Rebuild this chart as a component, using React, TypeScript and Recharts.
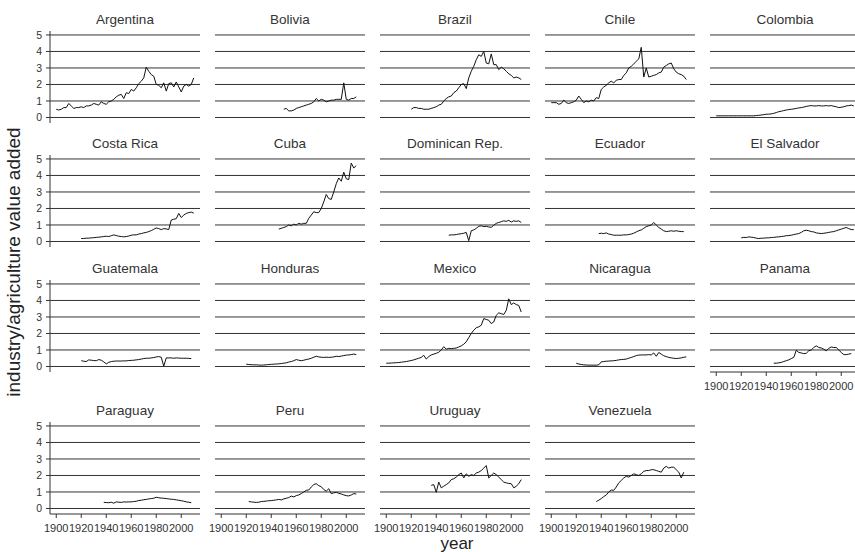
import { Line, LineChart, ReferenceLine, XAxis, YAxis } from 'recharts';

// year grid used by every series (two-year steps)
const YEARS = [
  1900, 1902, 1904, 1906, 1908, 1910, 1912, 1914, 1916, 1918,
  1920, 1922, 1924, 1926, 1928, 1930, 1932, 1934, 1936, 1938,
  1940, 1942, 1944, 1946, 1948, 1950, 1952, 1954, 1956, 1958,
  1960, 1962, 1964, 1966, 1968, 1970, 1972, 1974, 1976, 1978,
  1980, 1982, 1984, 1986, 1988, 1990, 1992, 1994, 1996, 1998,
  2000, 2002, 2004, 2006, 2008, 2010,
];
const X_TICKS = [1900, 1920, 1940, 1960, 1980, 2000];
const Y_TICKS = [0, 1, 2, 3, 4, 5];

const argentina = {
  name: 'Argentina',
  from: 1900,
  values: [
    0.5, 0.45, 0.5, 0.6, 0.6, 0.85, 0.7, 0.55, 0.6, 0.6,
    0.65, 0.6, 0.7, 0.7, 0.75, 0.85, 0.8, 0.75, 0.95, 0.85,
    0.8, 0.95, 1.0, 1.1, 1.25, 1.35, 1.4, 1.15, 1.5, 1.45,
    1.7, 1.6, 1.8, 2.05, 2.2, 2.4, 3.05, 2.8, 2.6, 2.5,
    2.0, 1.95, 1.8, 2.1, 1.6, 2.05, 2.1, 1.85, 2.15, 1.85,
    1.55, 1.9, 2.0, 1.9, 2.0, 2.4,
  ],
};
const bolivia = {
  name: 'Bolivia',
  from: 1950,
  values: [
    0.5, 0.55, 0.4, 0.4, 0.45, 0.55, 0.6, 0.65, 0.7, 0.75,
    0.8, 0.85, 0.95, 1.15, 1.0, 1.1, 1.05, 0.95, 1.0, 1.05,
    1.05, 1.1, 1.1, 1.1, 2.1, 1.1, 1.05, 1.15, 1.15, 1.25,
  ],
};
const brazil = {
  name: 'Brazil',
  from: 1920,
  values: [
    0.5, 0.6, 0.6, 0.55, 0.55, 0.5, 0.5, 0.5, 0.55, 0.6,
    0.65, 0.75, 0.8, 1.0, 1.15, 1.25, 1.3, 1.5, 1.6, 1.8,
    2.0, 2.05, 1.75, 2.4, 2.8, 3.1, 3.5, 3.8, 3.7, 4.0,
    3.3, 3.25, 3.85, 3.2, 3.2, 2.9, 3.05, 2.95, 2.8, 2.65,
    2.55, 2.4, 2.45, 2.4, 2.3,
  ],
};
const chile = {
  name: 'Chile',
  from: 1900,
  values: [
    0.9, 0.9, 0.9, 0.8, 0.85, 1.05, 0.9, 0.85, 0.9, 0.95,
    1.05, 1.3, 1.1, 0.9, 1.0, 0.95, 1.05, 1.0, 1.2, 1.15,
    1.7, 1.85, 1.95, 2.1, 2.2, 2.1, 2.25, 2.3, 2.3, 2.55,
    2.7, 3.0, 3.1, 3.25, 3.4, 3.55, 4.25, 2.45, 3.0, 2.45,
    2.5, 2.55, 2.6, 2.7, 2.75, 3.05, 3.15, 3.25, 3.3, 2.95,
    2.75, 2.65, 2.6, 2.5, 2.3,
  ],
};
const colombia = {
  name: 'Colombia',
  from: 1900,
  values: [
    0.1, 0.1, 0.1, 0.1, 0.1, 0.1, 0.1, 0.1, 0.1, 0.1,
    0.1, 0.1, 0.1, 0.1, 0.1, 0.1, 0.12, 0.13, 0.15, 0.17,
    0.2, 0.2, 0.22, 0.25, 0.3, 0.35, 0.38, 0.42, 0.45, 0.48,
    0.5, 0.52, 0.55, 0.58, 0.6, 0.63, 0.67, 0.7, 0.72, 0.7,
    0.7, 0.72, 0.7, 0.7, 0.72, 0.7, 0.72, 0.68, 0.65, 0.6,
    0.62, 0.65, 0.7, 0.72, 0.75, 0.7,
  ],
};
const costaRica = {
  name: 'Costa Rica',
  from: 1920,
  values: [
    0.18, 0.18, 0.2, 0.2, 0.22, 0.23, 0.25, 0.26, 0.28, 0.3,
    0.32, 0.3, 0.35, 0.4, 0.36, 0.32, 0.3, 0.28, 0.3, 0.33,
    0.38, 0.4, 0.4, 0.45, 0.48, 0.52, 0.55, 0.6, 0.66, 0.74,
    0.82, 0.78, 0.72, 0.78, 0.76, 0.72, 1.3, 1.35, 1.38, 1.7,
    1.45, 1.6, 1.7, 1.75, 1.78, 1.72,
  ],
};
const cuba = {
  name: 'Cuba',
  from: 1946,
  values: [
    0.75, 0.8, 0.85, 0.9, 1.0, 0.95, 1.05, 1.0, 1.1, 1.05,
    1.1, 1.1, 1.4, 1.6, 1.8, 1.75, 1.75, 2.0, 2.4, 2.85,
    2.6, 2.55, 3.0, 3.5, 3.85, 3.65, 4.2, 3.8, 3.75, 4.75,
    4.45, 4.6,
  ],
};
const dominicanRep = {
  name: 'Dominican Rep.',
  from: 1950,
  values: [
    0.38, 0.4, 0.4, 0.42, 0.45, 0.47, 0.5, 0.55, 0.05, 0.65,
    0.7, 0.8, 0.92, 0.95, 0.9, 0.92, 0.88, 0.86, 0.98, 1.1,
    1.15, 1.2, 1.25, 1.22, 1.28, 1.18, 1.25, 1.22, 1.25, 1.15,
  ],
};
const ecuador = {
  name: 'Ecuador',
  from: 1938,
  values: [
    0.48, 0.5, 0.48, 0.52, 0.45, 0.42, 0.38, 0.38, 0.38, 0.38,
    0.4, 0.4, 0.42, 0.45, 0.5, 0.58, 0.65, 0.7, 0.8, 0.9,
    0.95, 1.0, 1.15, 1.0, 0.85, 0.75, 0.65, 0.6, 0.62, 0.65,
    0.62, 0.65, 0.62, 0.6, 0.6,
  ],
};
const elSalvador = {
  name: 'El Salvador',
  from: 1920,
  values: [
    0.22, 0.25, 0.24, 0.28, 0.26, 0.24, 0.2, 0.18, 0.2, 0.2,
    0.22, 0.22, 0.24, 0.25, 0.27, 0.28, 0.3, 0.32, 0.35, 0.36,
    0.38, 0.42, 0.45, 0.48, 0.55, 0.65, 0.68, 0.65, 0.6, 0.58,
    0.52, 0.5, 0.48, 0.5, 0.52, 0.55, 0.58, 0.6, 0.65, 0.7,
    0.75, 0.8, 0.85, 0.78, 0.72, 0.72,
  ],
};
const guatemala = {
  name: 'Guatemala',
  from: 1920,
  values: [
    0.35, 0.32, 0.3, 0.4, 0.38, 0.36, 0.35, 0.42, 0.38, 0.28,
    0.16, 0.25, 0.3, 0.32, 0.33, 0.33, 0.33, 0.34, 0.34, 0.36,
    0.37, 0.38, 0.4, 0.42, 0.45, 0.48, 0.5, 0.5, 0.52, 0.54,
    0.58, 0.6, 0.56, 0.02, 0.52, 0.52, 0.52, 0.5, 0.52, 0.51,
    0.5, 0.5, 0.5, 0.49, 0.48,
  ],
};
const honduras = {
  name: 'Honduras',
  from: 1920,
  values: [
    0.14, 0.12, 0.11, 0.1, 0.1, 0.09, 0.08, 0.09, 0.1, 0.12,
    0.13, 0.14, 0.15, 0.16, 0.18, 0.2, 0.22, 0.27, 0.3, 0.35,
    0.42, 0.38, 0.35, 0.38, 0.42, 0.45, 0.5, 0.56, 0.62, 0.58,
    0.56, 0.55, 0.56, 0.55, 0.56, 0.58, 0.62, 0.6, 0.63, 0.66,
    0.69, 0.7, 0.72, 0.75, 0.72,
  ],
};
const mexico = {
  name: 'Mexico',
  from: 1900,
  values: [
    0.2, 0.2, 0.21, 0.22, 0.23, 0.24, 0.26, 0.28, 0.3, 0.33,
    0.36, 0.4, 0.45, 0.5, 0.55, 0.68, 0.45, 0.6, 0.7, 0.75,
    0.8, 0.86, 1.0, 1.2, 1.05, 1.1, 1.08, 1.1, 1.12, 1.18,
    1.25, 1.35, 1.5, 1.75, 2.0, 2.2, 2.35, 2.4, 2.5, 2.9,
    2.85, 2.8, 2.6, 2.7, 3.1, 3.25, 3.2, 3.15, 3.4, 4.1,
    3.75, 3.85, 3.75, 3.7, 3.3,
  ],
};
const nicaragua = {
  name: 'Nicaragua',
  from: 1920,
  values: [
    0.2, 0.15, 0.12, 0.1, 0.09, 0.08, 0.08, 0.08, 0.08, 0.1,
    0.28, 0.3, 0.32, 0.33, 0.34, 0.35, 0.37, 0.4, 0.42, 0.43,
    0.45, 0.5, 0.55, 0.6, 0.66, 0.69, 0.7, 0.7, 0.7, 0.72,
    0.7, 0.82, 0.62, 0.85, 0.75, 0.65, 0.6, 0.55, 0.52, 0.5,
    0.48, 0.5, 0.52, 0.56, 0.58,
  ],
};
const panama = {
  name: 'Panama',
  from: 1946,
  values: [
    0.2, 0.2, 0.22, 0.25, 0.3, 0.35, 0.4, 0.48, 0.55, 0.98,
    0.85, 0.82, 0.78, 0.8, 0.95, 1.0, 1.15, 1.25, 1.15, 1.12,
    1.05, 0.95, 1.1, 1.18, 1.15, 1.15, 1.0, 0.85, 0.72, 0.72,
    0.75, 0.78,
  ],
};
const paraguay = {
  name: 'Paraguay',
  from: 1938,
  values: [
    0.37, 0.36, 0.35, 0.38, 0.32, 0.4, 0.38, 0.37, 0.4, 0.39,
    0.4, 0.4, 0.42, 0.44, 0.48, 0.5, 0.53, 0.55, 0.58, 0.6,
    0.62, 0.68, 0.65, 0.63, 0.62, 0.6, 0.58, 0.56, 0.55, 0.52,
    0.5, 0.47, 0.44, 0.4, 0.38, 0.35,
  ],
};
const peru = {
  name: 'Peru',
  from: 1922,
  values: [
    0.42, 0.4, 0.38, 0.37, 0.38, 0.42, 0.43, 0.45, 0.47, 0.48,
    0.5, 0.52, 0.55, 0.52, 0.58, 0.62, 0.66, 0.75, 0.7, 0.78,
    0.82, 0.9, 1.0, 1.1, 1.12, 1.3, 1.45, 1.5, 1.38, 1.32,
    1.15, 1.05, 1.2, 0.9, 0.95, 0.98, 0.92, 0.88, 0.82, 0.78,
    0.76, 0.82, 0.9, 0.88,
  ],
};
const uruguay = {
  name: 'Uruguay',
  from: 1936,
  values: [
    1.4, 1.45, 0.98, 1.6, 1.25, 1.35, 1.45, 1.55, 1.75, 1.8,
    1.9, 2.05, 2.15, 1.85, 2.1, 1.95, 2.05, 2.0, 2.15, 2.2,
    2.3, 2.45, 2.6, 1.85, 2.0, 2.15, 2.05, 1.9, 1.75, 1.6,
    1.55, 1.52, 1.5, 1.25, 1.35, 1.5, 1.75,
  ],
};
const venezuela = {
  name: 'Venezuela',
  from: 1936,
  values: [
    0.42, 0.5, 0.6, 0.72, 0.82, 1.0, 1.12, 1.1, 1.3, 1.55,
    1.7, 1.85, 1.95, 1.9, 2.0, 2.1, 2.05, 2.0, 2.1, 2.25,
    2.3, 2.3, 2.35, 2.35, 2.3, 2.25, 2.2, 2.45, 2.55, 2.45,
    2.5, 2.5, 2.35, 2.2, 1.85, 2.2,
  ],
};

const PANEL_ROWS = [
  [argentina, bolivia, brazil, chile, colombia],
  [costaRica, cuba, dominicanRep, ecuador, elSalvador],
  [guatemala, honduras, mexico, nicaragua, panama],
  [paraguay, peru, uruguay, venezuela],
];

const ROW_TOPS = [31, 155, 280, 422];
const COL_LEFTS = [50, 215, 380, 545, 710];
const PLOT_W = 150;
const PLOT_H = 92;
const AXIS_W = 40;
const AXIS_H = 30;
const PAD_TOP = 8;
const FONT = "'Liberation Sans', Arial, Helvetica, sans-serif";
const INK = '#333';

type Country = { name: string; from: number; values: number[] };

const Panel = ({ country, left, top, showX, showY }: { country: Country; left: number; top: number; showX: boolean; showY: boolean }) => {
  const start = YEARS.indexOf(country.from);
  const data = country.values.map((v, i) => ({ year: YEARS[start + i], value: v }));

  return (
    <div style={{ position: 'absolute', left: left - AXIS_W, top: top - PAD_TOP }}>
      <LineChart
        width={PLOT_W + AXIS_W}
        height={PLOT_H + AXIS_H + PAD_TOP}
        data={data}
        margin={{ top: PAD_TOP, right: 0, bottom: 0, left: 0 }}
      >
        <XAxis
          dataKey='year'
          type='number'
          domain={[1895, 2015]}
          ticks={X_TICKS}
          interval={0}
          height={AXIS_H}
          allowDataOverflow
          tick={showX ? { fill: INK, fontSize: 11, fontFamily: FONT } : false}
          axisLine={showX ? { stroke: INK } : false}
          tickLine={showX ? { stroke: INK } : false}
          tickSize={4}
          tickMargin={6}
        />
        <YAxis
          type='number'
          domain={[-0.334, 5.24]}
          ticks={Y_TICKS}
          interval={0}
          width={AXIS_W}
          allowDataOverflow
          tick={showY ? { fill: INK, fontSize: 10.5, fontFamily: FONT } : false}
          axisLine={showY ? { stroke: INK } : false}
          tickLine={showY ? { stroke: INK } : false}
          tickSize={4}
          tickMargin={4}
        />
        {/* horizontal reference lines at every unit */}
        {Y_TICKS.map((v) => (
          <ReferenceLine key={v} y={v} stroke={INK} strokeWidth={1} />
        ))}
        <Line
          dataKey='value'
          stroke='#111'
          strokeWidth={1}
          dot={false}
          isAnimationActive={false}
        />
      </LineChart>
    </div>
  );
};

export default function App() {
  return (
    <div
      style={{
        position: 'absolute',
        left: 0,
        top: 0,
        width: 855,
        height: 552,
        background: '#fff',
        overflow: 'hidden',
        fontFamily: FONT,
      }}
    >
      {PANEL_ROWS.map((row, r) =>
        row.map((country, c) => (
          <Panel
            key={country.name}
            country={country}
            left={COL_LEFTS[c]}
            top={ROW_TOPS[r]}
            showY={c === 0}
            showX={r === PANEL_ROWS.length - 1 || PANEL_ROWS[r + 1][c] === undefined}
          />
        ))
      )}

      {/* titles and axis labels */}
      <svg width={855} height={552} style={{ position: 'absolute', left: 0, top: 0, pointerEvents: 'none' }}>
        {PANEL_ROWS.map((row, r) =>
          row.map((country, c) => (
            <text
              key={country.name}
              x={COL_LEFTS[c] + PLOT_W / 2}
              y={ROW_TOPS[r] - 7}
              textAnchor='middle'
              fontSize={13.5}
              fontFamily={FONT}
              fill={INK}
            >
              {country.name}
            </text>
          ))
        )}
        <text x={457} y={549} textAnchor='middle' fontSize={17} fontFamily={FONT} fill='#222'>
          year
        </text>
        <text
          x={0}
          y={0}
          transform='translate(20 262) rotate(-90)'
          textAnchor='middle'
          fontSize={19}
          fontFamily={FONT}
          fill='#222'
        >
          industry/agriculture value added
        </text>
      </svg>
    </div>
  );
}
